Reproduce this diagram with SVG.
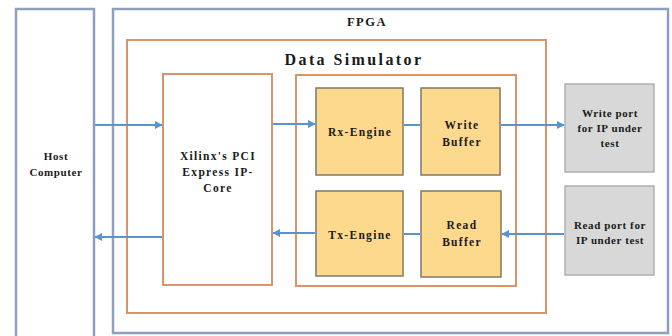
<svg xmlns="http://www.w3.org/2000/svg" width="672" height="336" viewBox="0 0 672 336">
<defs>
<style>
.blue{fill:#ffffff;stroke:#8da0c0;stroke-width:2.5}
.org{fill:#ffffff;stroke:#d9946a;stroke-width:2}
.yel{fill:#fdd98e;stroke:#7f7a62;stroke-width:1.5}
.gry{fill:#d8d8d8;stroke:#b0b0b0;stroke-width:1.5}
text{font-family:"Liberation Serif",serif;font-weight:bold;fill:#1a1a1a;text-anchor:middle}
.t{font-size:11px;letter-spacing:0.6px}
.m{font-size:11.5px;letter-spacing:1.3px}
.con{stroke:#5b93cc;stroke-width:2;fill:none}
</style>
<marker id="ah" viewBox="0 0 10 10" refX="9" refY="5" markerWidth="4" markerHeight="4" orient="auto"><path d="M0,0L10,5L0,10z" fill="#5b93cc"/></marker>
</defs>
<rect width="672" height="336" fill="#ffffff"/>
<g id="host"><rect class="blue" x="16" y="9" width="78" height="340"/><text class="t" x="56" y="160">Host</text><text class="t" x="56" y="176">Computer</text></g>
<g id="fpga"><rect class="blue" x="113" y="9" width="555" height="324"/><text x="367" y="26" font-size="12.5" letter-spacing="1.5">FPGA</text></g>
<g id="datasim"><rect class="org" x="127" y="40" width="419" height="273"/><text x="354" y="65" font-size="16" letter-spacing="2.4">Data Simulator</text></g>
<g id="xilinx"><rect class="org" x="163" y="74" width="109" height="211"/><text class="m" x="218" y="160">Xilinx's PCI</text><text class="m" x="218" y="176">Express IP-</text><text class="m" x="218" y="192">Core</text></g>
<g id="inner"><rect class="org" x="296" y="75" width="220" height="211"/></g>
<g id="rx"><rect class="yel" x="316" y="88" width="87" height="87"/><text class="m" x="360" y="136">Rx-Engine</text></g>
<g id="wbuf"><rect class="yel" x="421" y="88" width="79" height="87"/><text class="m" x="462" y="129">Write</text><text class="m" x="462" y="146">Buffer</text></g>
<g id="tx"><rect class="yel" x="316" y="191" width="87" height="85"/><text class="m" x="360" y="239">Tx-Engine</text></g>
<g id="rbuf"><rect class="yel" x="421" y="191" width="80" height="86"/><text class="m" x="462" y="229">Read</text><text class="m" x="462" y="246">Buffer</text></g>
<g id="wport"><rect class="gry" x="565" y="84" width="89" height="88"/><text class="t" x="610" y="117">Write port</text><text class="t" x="610" y="132">for IP under</text><text class="t" x="610" y="147">test</text></g>
<g id="rport"><rect class="gry" x="565" y="186" width="89" height="89"/><text class="t" x="610" y="229">Read port for</text><text class="t" x="610" y="244">IP under test</text></g>
<g id="connectors">
<line class="con" x1="95" y1="125" x2="162" y2="125" marker-end="url(#ah)"/>
<line class="con" x1="273" y1="124" x2="315" y2="124" marker-end="url(#ah)"/>
<line class="con" x1="404" y1="125" x2="420" y2="125"/>
<line class="con" x1="501" y1="125" x2="564" y2="125" marker-end="url(#ah)"/>
<line class="con" x1="564" y1="234" x2="502" y2="234" marker-end="url(#ah)"/>
<line class="con" x1="420" y1="234" x2="404" y2="234"/>
<line class="con" x1="315" y1="233" x2="273" y2="233" marker-end="url(#ah)"/>
<line class="con" x1="162" y1="237" x2="95" y2="237" marker-end="url(#ah)"/>
</g>
</svg>
